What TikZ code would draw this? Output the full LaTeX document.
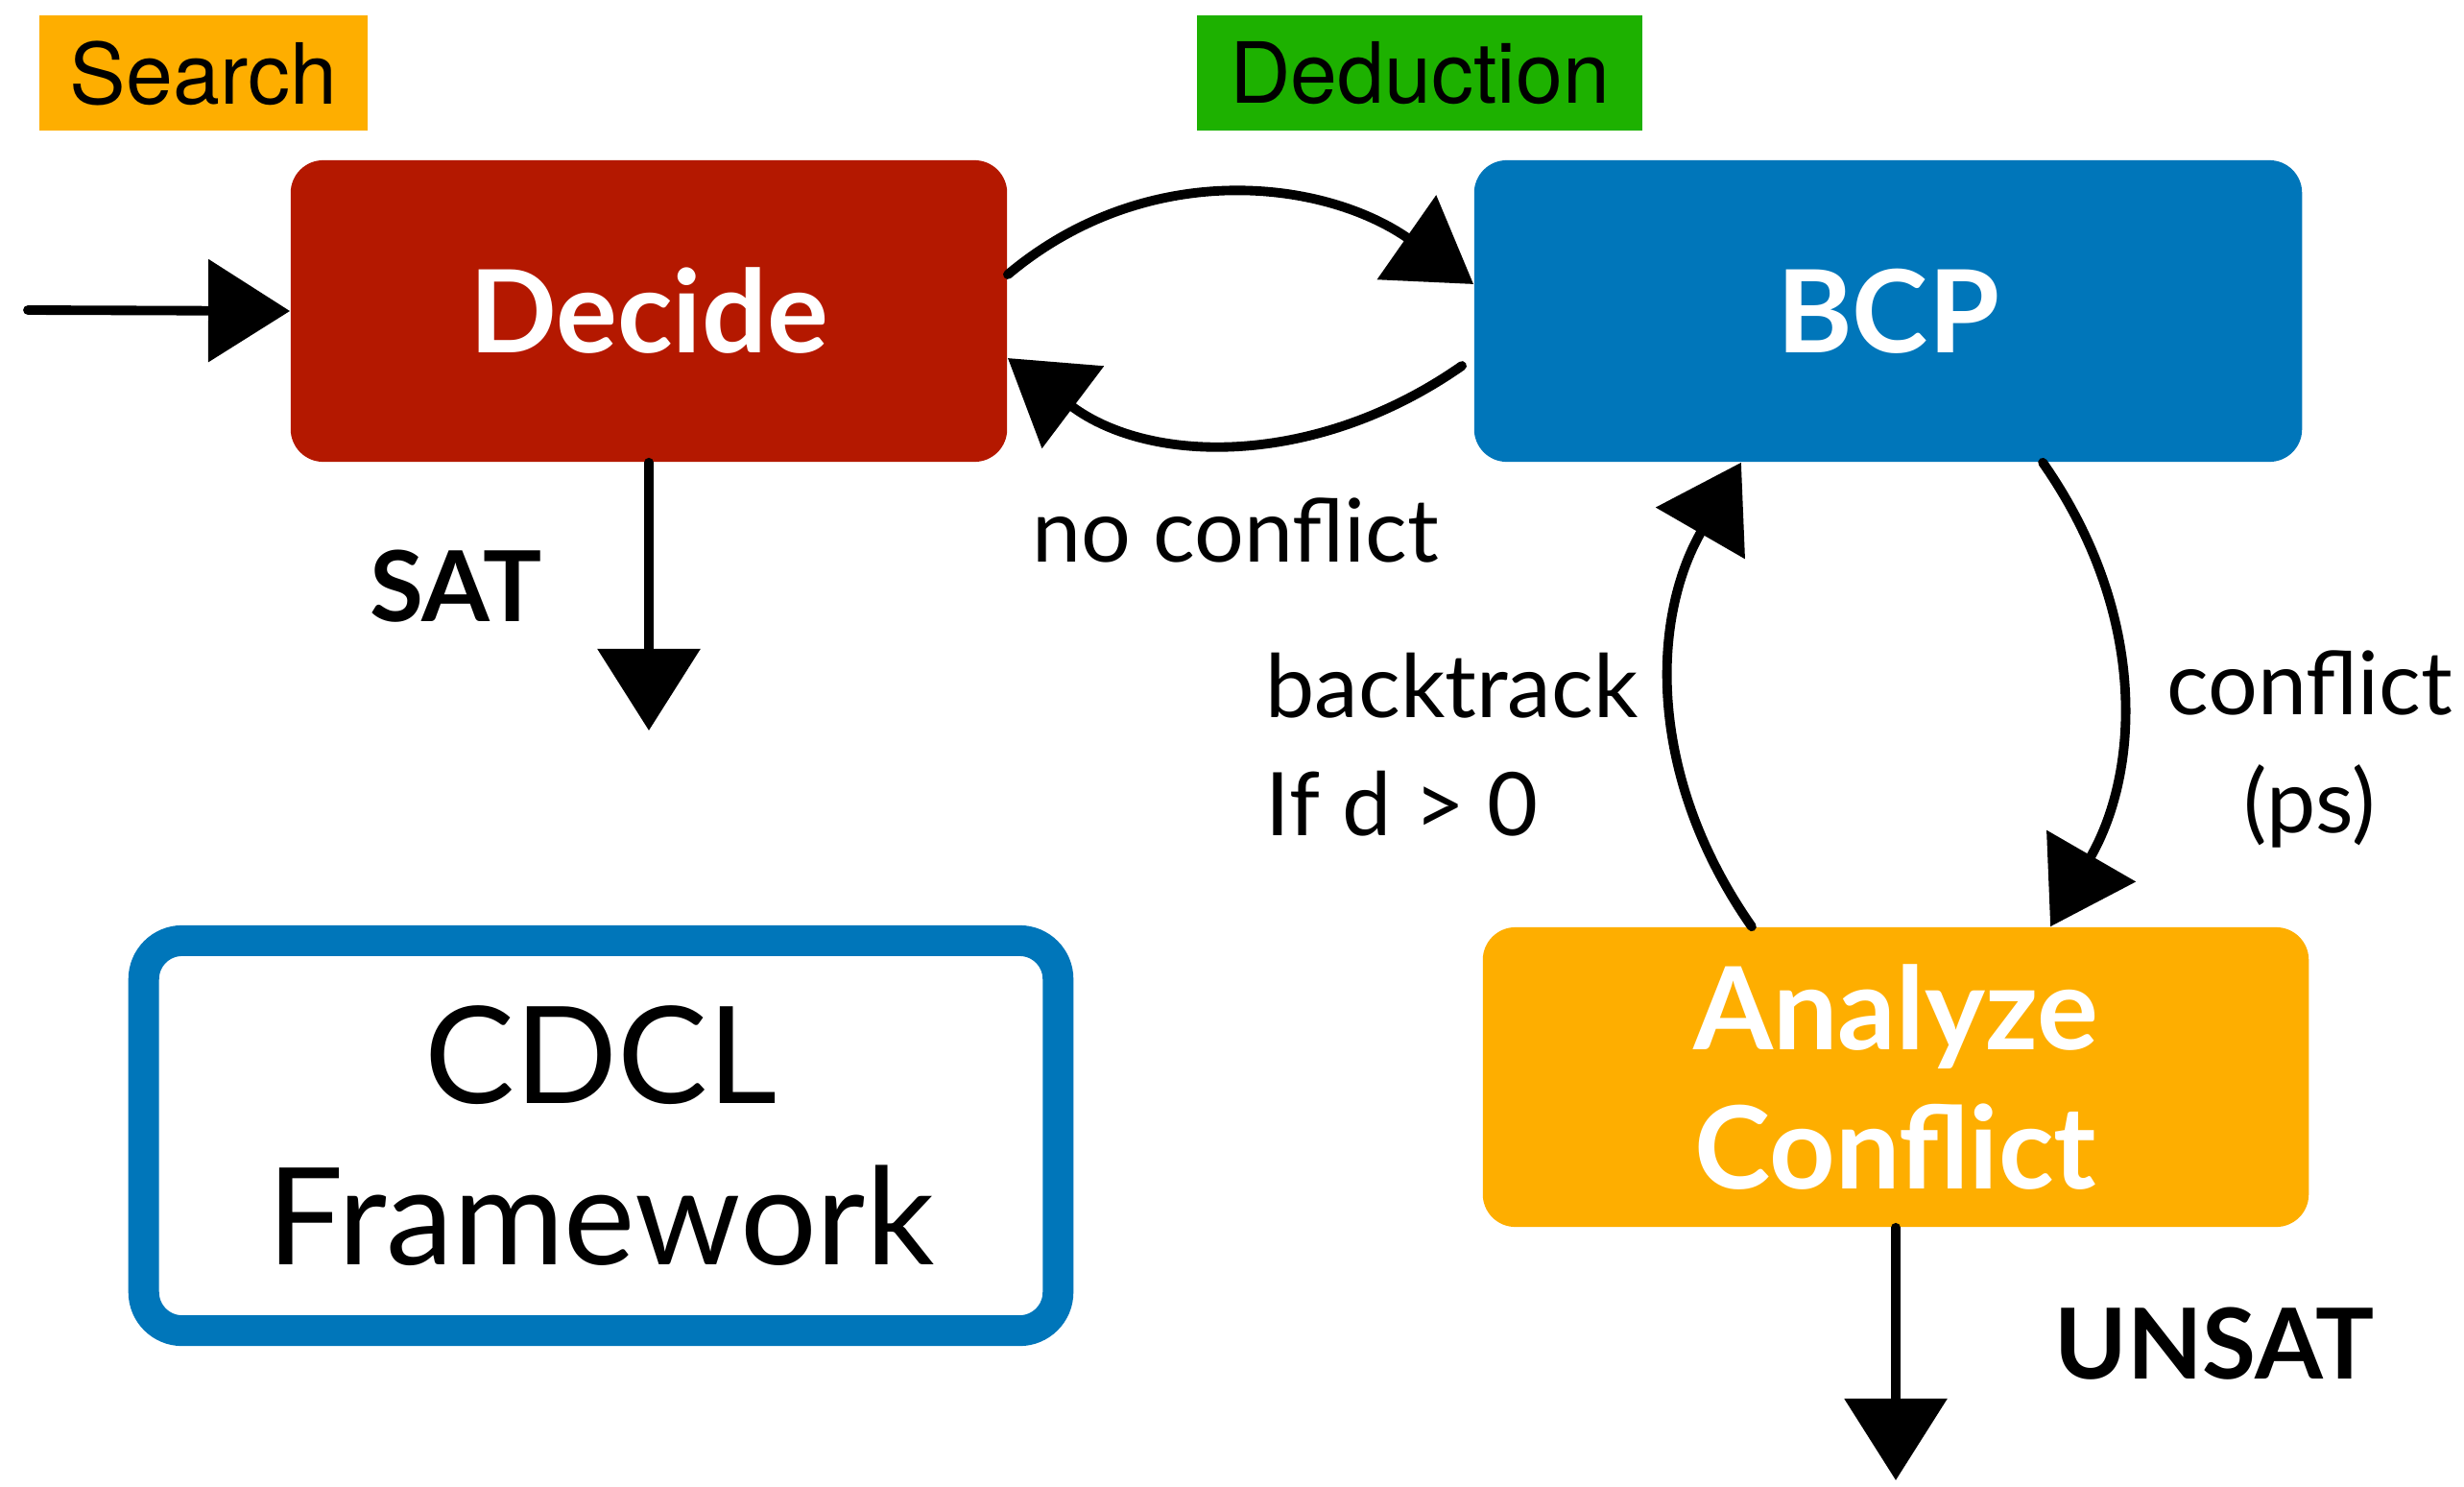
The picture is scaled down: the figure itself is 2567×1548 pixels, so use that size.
\documentclass[tikz,border=0pt]{standalone}
\usepackage{fontspec}
\setmainfont{Lato}
\newfontfamily\tagfont{TeX Gyre Heros}
\usetikzlibrary{arrows.meta}

\definecolor{decidered}{HTML}{B41800}
\definecolor{bcpblue}{HTML}{0076BA}
\definecolor{analyzeorange}{HTML}{FEAE00}
\definecolor{deductgreen}{HTML}{1DB100}

\tikzset{
    tagbox/.style={inner sep=0pt, minimum height=1.2cm, font=\tagfont\fontsize{25}{28}\selectfont},
    block/.style={rounded corners=0.34cm, inner sep=0pt, minimum height=3.14cm,
        text=white, align=center, font=\bfseries\fontsize{34}{36}\selectfont},
    lbl/.style={inner sep=0pt, font=\fontsize{26}{35}\selectfont},
    verdict/.style={inner sep=0pt, font=\bfseries\fontsize{29}{30}\selectfont},
    sketch/.style={line width=2.8pt, line cap=round, black,
        -{Triangle[length=0.85cm, width=1.05cm]}}
}

\begin{document}
\begin{tikzpicture}[x=0.01cm, y=-0.01cm]
    \fill[white] (0,0) rectangle (2567,1548);
    \useasboundingbox (0,0) rectangle (2567,1548);

    % Phase tags
    \node[tagbox, fill=analyzeorange, minimum width=3.42cm] (search) at (212,76) {Search};
    \node[tagbox, fill=deductgreen, minimum width=4.64cm] (deduction) at (1479,76) {Deduction};

    % Main blocks
    \node[block, fill=decidered, minimum width=7.46cm] (decide) at (676,324) {Decide};
    \node[block, fill=bcpblue, minimum width=8.62cm] (bcp) at (1967,324) {BCP};
    \node[block, fill=analyzeorange, minimum width=8.6cm, minimum height=3.12cm,
        font=\bfseries\fontsize{34}{41}\selectfont] (analyze) at (1975,1122) {Analyze\\Conflict};

    % Framework title
    \node[draw=bcpblue, line width=0.32cm, rounded corners=0.4cm, minimum width=9.52cm,
        minimum height=4.06cm, align=center, font=\fontsize{40}{48}\selectfont]
        (framework) at (626,1183) {CDCL\\Framework};

    % Loose ends
    \coordinate (entry) at (29,323);
    \coordinate (satend) at (676,761);
    \coordinate (unsatend) at (1975,1542);

    % Connectors
    \draw[sketch] (entry) -- (decide.west);
    \draw[sketch] ([yshift=0.38cm]decide.east) to[out=40, in=145] ([yshift=0.28cm]bcp.west);
    \draw[sketch] ([xshift=-0.12cm, yshift=-0.57cm]bcp.west) to[out=-145, in=-37] ([yshift=-0.49cm]decide.east);
    \draw[sketch] (decide.south) -- (satend);
    \draw[sketch] ([xshift=1.61cm]bcp.south) to[out=-55, in=60] ([xshift=1.61cm]analyze.north);
    \draw[sketch] ([xshift=-1.5cm]analyze.north) to[out=125, in=-120] ([xshift=-1.53cm]bcp.south);
    \draw[sketch] (analyze.south) -- (unsatend);

    % Labels
    \node[verdict] (sat) at (475,611) {SAT};
    \node[verdict] (unsat) at (2307,1400) {UNSAT};
    \node[lbl] (noconflict) at (1287,552) {no conflict};
    \node[lbl, align=left, anchor=west] (backtrack) at (1318,776) {backtrack\\If d > 0};
    \node[lbl, align=center] (conflict) at (2406,780) {conflict\\(ps)};
\end{tikzpicture}
\end{document}
